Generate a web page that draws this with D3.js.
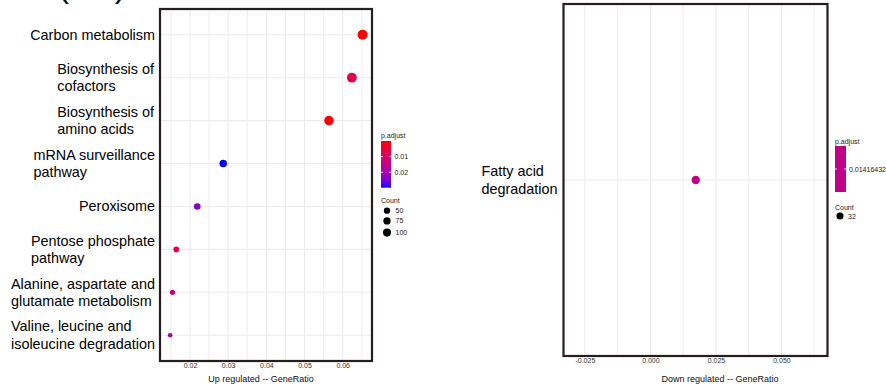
<!DOCTYPE html>
<html>
<head>
<meta charset="utf-8">
<script src="https://cdn.jsdelivr.net/npm/d3@7/dist/d3.min.js"></script>
<style>
  html, body { margin: 0; padding: 0; background: #fff; overflow: hidden; }
  svg { display: block; }
  text { font-family: "Liberation Sans", Arial, Helvetica, sans-serif; }
</style>
</head>
<body>
<svg id="chart" width="886" height="388"></svg>
<script>
// ---- Up-regulated KEGG enrichment ----
const upTerms = [
  "Carbon metabolism",
  "Biosynthesis of\ncofactors",
  "Biosynthesis of\namino acids",
  "mRNA surveillance\npathway",
  "Peroxisome",
  "Pentose phosphate\npathway",
  "Alanine, aspartate and\nglutamate metabolism",
  "Valine, leucine and\nisoleucine degradation"
];
const upGeneRatio = [0.0652, 0.0624, 0.0564, 0.0287, 0.0219, 0.0164, 0.0154, 0.0148];
const upCount     = [98, 94, 85, 43, 33, 25, 23, 22];
const upPadjust   = [0.0000012, 0.0078, 0.0003, 0.0299, 0.0232, 0.0066, 0.0126, 0.0182];
const upTicks     = [0.02, 0.03, 0.04, 0.05, 0.06];
const upMinor     = [0.015, 0.025, 0.035, 0.045, 0.055, 0.065];
const upColorTicks = [0.01, 0.02];
const upCountLegend = [50, 75, 100];

// ---- Down-regulated KEGG enrichment ----
const downTerms     = ["Fatty acid\ndegradation"];
const downGeneRatio = [0.0173];
const downCount     = [32];
const downPadjust   = [0.01416432];
const downTicks     = [-0.025, 0.000, 0.025, 0.050];
const downMinor     = [-0.0125, 0.0125, 0.0375, 0.0625];

const svg = d3.select("#chart");
const gridColor = "#ebebeb";
const frameColor = "#261d1d";
const tickTextColor = "#333";

// point radius: area grows linearly with the rescaled count
const radiusOf = d3.scaleSqrt().domain([0, 1]).range([2.3, 5]);

function drawPanel(cfg) {
  const g = svg.append("g");
  const { x0, x1, y0, y1 } = cfg;
  const x = d3.scaleLinear().domain(cfg.xDomain).range([x0, x1]);
  const y = d3.scalePoint().domain(cfg.terms).range([y0, y1]).padding(0.6);

  // grid
  g.selectAll("line.minor").data(cfg.minor).join("line")
    .attr("x1", d => x(d)).attr("x2", d => x(d))
    .attr("y1", y0).attr("y2", y1)
    .attr("stroke", gridColor).attr("stroke-width", 0.8);
  g.selectAll("line.majorx").data(cfg.ticks).join("line")
    .attr("x1", d => x(d)).attr("x2", d => x(d))
    .attr("y1", y0).attr("y2", y1)
    .attr("stroke", gridColor).attr("stroke-width", 1.1);
  g.selectAll("line.majory").data(cfg.terms).join("line")
    .attr("x1", x0).attr("x2", x1)
    .attr("y1", d => y(d)).attr("y2", d => y(d))
    .attr("stroke", gridColor).attr("stroke-width", 1.1);

  // points
  const rows = cfg.terms.map((t, i) => ({
    term: t, ratio: cfg.ratio[i], count: cfg.count[i], p: cfg.padj[i]
  }));
  g.selectAll("circle.pt").data(rows).join("circle")
    .attr("cx", d => x(d.ratio))
    .attr("cy", d => y(d.term))
    .attr("r", d => cfg.rOf(d.count))
    .attr("fill", d => cfg.colorOf(d.p));

  // frame
  g.append("rect")
    .attr("x", x0).attr("y", y0)
    .attr("width", x1 - x0).attr("height", y1 - y0)
    .attr("fill", "none").attr("stroke", frameColor).attr("stroke-width", 2.2);

  // x axis labels
  const axis = d3.axisBottom(x).tickValues(cfg.ticks).tickSize(0).tickPadding(0)
    .tickFormat(d => d3.format(cfg.fmt)(d).replace("\u2212", "-"));
  const ax = g.append("g").attr("transform", `translate(0,${y1 + 2})`).call(axis);
  ax.select(".domain").remove();
  ax.selectAll("text").attr("font-size", 7).attr("fill", tickTextColor)
    .attr("font-family", "'Liberation Sans', Arial, sans-serif");

  // x title
  g.append("text").attr("x", cfg.titleX).attr("y", 382)
    .attr("text-anchor", "middle").attr("font-size", 9).attr("fill", "#111")
    .text(cfg.title);

  // y labels: lines left-aligned inside a right-aligned block
  const lineH = 17.5;
  cfg.terms.forEach(t => {
    const lines = t.split("\n");
    const txt = g.append("text").attr("font-size", 14.4).attr("fill", "#000");
    const top = y(t) - (lines.length - 1) * lineH / 2 + 5;
    lines.forEach((l, i) => {
      txt.append("tspan").attr("x", 0).attr("y", top + i * lineH).text(l);
    });
    const w = txt.node().getBBox().width;
    txt.selectAll("tspan").attr("x", x0 - cfg.labelGap - w);
  });
  return g;
}

// colour scales (Lab interpolation, red = smallest p.adjust)
const upColor = d3.scaleLinear().domain(d3.extent(upPadjust))
  .range(["red", "blue"]).interpolate(d3.interpolateLab);
const upSizeT = d3.scaleLinear().domain(d3.extent(upCount)).range([0, 1]);
const upR = c => radiusOf(upSizeT(c));

const midColor = d3.interpolateLab("red", "blue")(0.5);
const downColor = () => midColor;
const downR = () => radiusOf(0.5);

drawPanel({
  x0: 160, x1: 372, y0: 9, y1: 361,
  xDomain: [0.012141, 0.067675],
  terms: upTerms, ratio: upGeneRatio, count: upCount, padj: upPadjust,
  ticks: upTicks, minor: upMinor, fmt: ".2f",
  colorOf: upColor, rOf: upR,
  title: "Up regulated -- GeneRatio", titleX: 261, labelGap: 5
});

drawPanel({
  x0: 563.5, x1: 827.5, y0: 4, y1: 356,
  xDomain: [-0.03315, 0.06756],
  terms: downTerms, ratio: downGeneRatio, count: downCount, padj: downPadjust,
  ticks: downTicks, minor: downMinor, fmt: ".3f",
  colorOf: downColor, rOf: downR,
  title: "Down regulated -- GeneRatio", titleX: 720, labelGap: 6
});

// ---- legends ----
const defs = svg.append("defs");
const grad = defs.append("linearGradient").attr("id", "upGrad")
  .attr("x1", 0).attr("x2", 0).attr("y1", 0).attr("y2", 1);
d3.range(0, 1.0001, 0.1).forEach(t => {
  grad.append("stop").attr("offset", t)
    .attr("stop-color", d3.interpolateLab("red", "blue")(t));
});

function legendText(x, y, s) {
  return svg.append("text").attr("x", x).attr("y", y).attr("font-size", 7)
    .attr("fill", "#1a1a1a").attr("dominant-baseline", "central").text(s);
}

// up: p.adjust colour bar
{
  const bx = 381, bw = 10, by0 = 141, by1 = 187.7;
  legendText(bx, 135, "p.adjust");
  svg.append("rect").attr("x", bx).attr("y", by0).attr("width", bw)
    .attr("height", by1 - by0).attr("fill", "url(#upGrad)");
  const cy = d3.scaleLinear().domain(d3.extent(upPadjust)).range([by0, by1]);
  upColorTicks.forEach(v => {
    const yy = cy(v);
    svg.append("line").attr("x1", bx).attr("x2", bx + 2).attr("y1", yy).attr("y2", yy)
      .attr("stroke", "#fff").attr("stroke-width", 0.8);
    svg.append("line").attr("x1", bx + bw - 2).attr("x2", bx + bw).attr("y1", yy).attr("y2", yy)
      .attr("stroke", "#fff").attr("stroke-width", 0.8);
    legendText(bx + 13.5, yy, d3.format(".2f")(v));
  });
  legendText(bx, 200.5, "Count");
  const keyY = [210.7, 220.9, 232.6];
  upCountLegend.forEach((c, i) => {
    svg.append("circle").attr("cx", 387).attr("cy", keyY[i])
      .attr("r", upR(c) * 0.8).attr("fill", "#000");
    legendText(395.5, keyY[i], String(c));
  });
}

// down: single-value colour bar
{
  const bx = 835, bw = 11, by0 = 146, by1 = 192;
  legendText(bx, 141, "p.adjust");
  svg.append("rect").attr("x", bx).attr("y", by0).attr("width", bw)
    .attr("height", by1 - by0).attr("fill", midColor);
  const yy = (by0 + by1) / 2;
  svg.append("line").attr("x1", bx).attr("x2", bx + 2).attr("y1", yy).attr("y2", yy)
    .attr("stroke", "#fff").attr("stroke-width", 0.8);
  svg.append("line").attr("x1", bx + bw - 2).attr("x2", bx + bw).attr("y1", yy).attr("y2", yy)
    .attr("stroke", "#fff").attr("stroke-width", 0.8);
  legendText(bx + 14, yy, String(downPadjust[0]));
  legendText(bx, 207, "Count");
  svg.append("circle").attr("cx", 840).attr("cy", 216).attr("r", downR() * 0.85).attr("fill", "#000");
  legendText(848, 216, String(downCount[0]));
}

// panel tag, mostly above the visible area
svg.append("text").attr("x", 58).attr("y", -3.5).attr("font-size", 33)
  .attr("fill", "#111").text("(UP)");
</script>
</body>
</html>
